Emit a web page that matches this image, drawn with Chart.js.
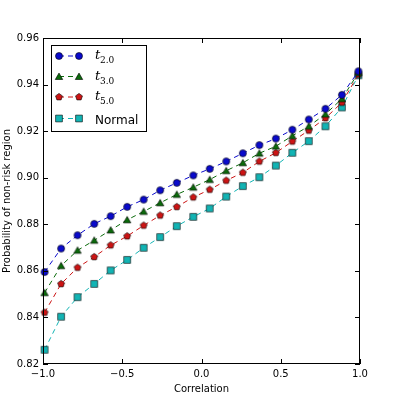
<!DOCTYPE html>
<html>
<head>
<meta charset="utf-8">
<script src="https://cdn.jsdelivr.net/npm/chart.js@4/dist/chart.umd.min.js"></script>
<style>
  html, body { margin: 0; padding: 0; background: #fff; }
  #wrap { width: 400px; height: 400px; }
</style>
</head>
<body>
<div id="wrap"><canvas id="myChart" width="400" height="400"></canvas></div>
<script>
// correlation values (x)
const corr = [-0.99, -0.886, -0.782, -0.677, -0.573, -0.469, -0.365, -0.261, -0.156, -0.052,
              0.052, 0.156, 0.261, 0.365, 0.469, 0.573, 0.677, 0.782, 0.886, 0.99];
// probability of non-risk region for each distribution
const t2 = [0.8595, 0.8696, 0.8753, 0.8802, 0.8835, 0.8875, 0.8906, 0.8946, 0.8978, 0.9010,
            0.9038, 0.9070, 0.9105, 0.9140, 0.9168, 0.9206, 0.9250, 0.9296, 0.9356, 0.9457];
const t3 = [0.8506, 0.8622, 0.8688, 0.8731, 0.8775, 0.8819, 0.8855, 0.8892, 0.8928, 0.8959,
            0.8992, 0.9030, 0.9064, 0.9105, 0.9135, 0.9180, 0.9221, 0.9273, 0.9339, 0.9451];
const t5 = [0.8421, 0.8544, 0.8614, 0.8660, 0.8710, 0.8749, 0.8795, 0.8838, 0.8875, 0.8916,
            0.8949, 0.8988, 0.9022, 0.9070, 0.9107, 0.9156, 0.9203, 0.9256, 0.9323, 0.9443];
const normal = [0.8261, 0.8403, 0.8487, 0.8544, 0.8602, 0.8647, 0.8699, 0.8745, 0.8792, 0.8832,
                0.8868, 0.8919, 0.8964, 0.9002, 0.9052, 0.9107, 0.9157, 0.9221, 0.9302, 0.9440];
const seriesNames = ['2.0', '3.0', '5.0', 'Normal'];
const xTicks = [-1.0, -0.5, 0.0, 0.5, 1.0];
const yTicks = [0.82, 0.84, 0.86, 0.88, 0.90, 0.92, 0.94, 0.96];

const colors = ['#0a0acc', '#0b6b0b', '#cc1414', '#12b4b4'];
const shapes = ['circle', 'triangle', 'pentagon', 'square'];
const sizes = [3.5, 4.3, 3.6, 3.4];

function markerPath(ctx, shape, x, y, r){
    ctx.beginPath();
    if(shape === 'circle'){
        ctx.arc(x, y, r, 0, Math.PI * 2);
    }else if(shape === 'square'){
        ctx.rect(x - r, y - r, 2 * r, 2 * r);
    }else{
        let n = shape === 'triangle' ? 3 : 5;
        for(let i = 0; i < n; i++){
            let a = -Math.PI / 2 + i * 2 * Math.PI / n;
            let px = x + r * Math.cos(a), py = y + r * Math.sin(a) + (n === 3 ? r * 0.2 : 0);
            if(i === 0) ctx.moveTo(px, py); else ctx.lineTo(px, py);
        }
        ctx.closePath();
    }
}

function drawMarker(ctx, i, x, y){
    ctx.save();
    markerPath(ctx, shapes[i], x, y, sizes[i]);
    ctx.fillStyle = colors[i];
    ctx.fill();
    ctx.lineWidth = 0.6;
    ctx.strokeStyle = '#000';
    ctx.stroke();
    ctx.restore();
}

// marker images for chart.js pointStyle
const markerImgs = shapes.map((s, i) => {
    const c = document.createElement('canvas');
    c.width = 12; c.height = 12;
    drawMarker(c.getContext('2d'), i, 6, 6);
    return c;
});

const fmtX = v => {
    let s = Math.abs(v).toFixed(1);
    return v < 0 ? '\u2212' + s : s;
};

const frameTicks = {
    id: 'frameTicks',
    afterDatasetsDraw(chart){
        const ctx = chart.ctx;
        const a = chart.chartArea;
        const xs = chart.scales.x, ys = chart.scales.y;
        ctx.save();
        ctx.strokeStyle = '#000';
        ctx.lineWidth = 1;
        ctx.beginPath();
        xTicks.forEach(v => {
            let px = Math.round(xs.getPixelForValue(v)) + 0.5;
            ctx.moveTo(px, a.bottom); ctx.lineTo(px, a.bottom - 5);
            ctx.moveTo(px, a.top); ctx.lineTo(px, a.top + 5);
        });
        yTicks.forEach(v => {
            let py = Math.round(ys.getPixelForValue(v)) + 0.5;
            ctx.moveTo(a.left, py); ctx.lineTo(a.left + 5, py);
            ctx.moveTo(a.right, py); ctx.lineTo(a.right - 5, py);
        });
        ctx.stroke();
        ctx.strokeRect(a.left + 0.5, a.top + 0.5, a.right - a.left - 1, a.bottom - a.top - 1);

        // legend box
        const lx = a.left + 8, ly = a.top + 7, lw = 95, lh = 86;
        ctx.fillStyle = '#fff';
        ctx.fillRect(lx, ly, lw, lh);
        ctx.strokeRect(lx + 0.5, ly + 0.5, lw, lh);
        const rows = [11, 31.5, 52, 73.5];
        rows.forEach((dy, i) => {
            let y = ly + dy;
            ctx.save();
            ctx.strokeStyle = colors[i];
            ctx.lineWidth = 1;
            ctx.setLineDash([5, 4]);
            ctx.beginPath();
            ctx.moveTo(lx + 8, y); ctx.lineTo(lx + 28, y);
            ctx.stroke();
            ctx.restore();
            drawMarker(ctx, i, lx + 8, y);
            drawMarker(ctx, i, lx + 28, y);
            ctx.fillStyle = '#000';
            ctx.textBaseline = 'alphabetic';
            ctx.textAlign = 'left';
            if(i < 3){
                ctx.font = 'italic 13px "DejaVu Serif"';
                ctx.fillText('t', lx + 44, y + 3);
                ctx.font = '9px "DejaVu Serif"';
                ctx.fillText(seriesNames[i], lx + 49, y + 7);
            }else{
                ctx.font = '12px "DejaVu Sans"';
                ctx.fillText(seriesNames[i], lx + 44, y + 5);
            }
        });
        ctx.restore();
    }
};

const ctx = document.getElementById('myChart').getContext('2d');
const myChart = new Chart(ctx, {
    type: 'line',
    data: {
        datasets: [t2, t3, t5, normal].map((vals, i) => ({
            label: seriesNames[i],
            data: vals.map((v, k) => ({x: corr[k], y: v})),
            borderColor: colors[i],
            borderWidth: 1,
            borderDash: [5, 4],
            pointStyle: markerImgs[i],
            pointRadius: 6,
            tension: 0,
            fill: false,
            clip: false,
        })),
    },
    options: {
        responsive: false,
        animation: false,
        devicePixelRatio: 1,
        layout: { padding: { top: 38, right: 40, bottom: 0, left: 0 } },
        plugins: { legend: { display: false }, tooltip: { enabled: false } },
        scales: {
            x: {
                type: 'linear',
                min: -1, max: 1,
                grid: { display: false, drawTicks: false },
                border: { display: false },
                afterBuildTicks: s => { s.ticks = xTicks.map(v => ({value: v})); },
                afterFit: s => { s.height = 36; },
                ticks: {
                    callback: v => fmtX(v),
                    color: '#000',
                    font: { family: 'DejaVu Sans', size: 10 },
                    padding: 4,
                    maxRotation: 0,
                },
                title: {
                    display: true, text: 'Correlation', color: '#000',
                    font: { family: 'DejaVu Sans', size: 10 },
                    padding: { top: 0, bottom: 5 },
                },
            },
            y: {
                min: 0.82, max: 0.96,
                grid: { display: false, drawTicks: false },
                border: { display: false },
                afterBuildTicks: s => { s.ticks = yTicks.map(v => ({value: v})); },
                afterFit: s => { s.width = 43; },
                ticks: {
                    callback: v => v.toFixed(2),
                    color: '#000',
                    font: { family: 'DejaVu Sans', size: 10 },
                    padding: 4,
                },
                title: {
                    display: true, text: 'Probability of non-risk region', color: '#000',
                    font: { family: 'DejaVu Sans', size: 10 },
                    padding: { top: 1, bottom: 0 },
                },
            },
        },
    },
    plugins: [frameTicks],
});
</script>
</body>
</html>
